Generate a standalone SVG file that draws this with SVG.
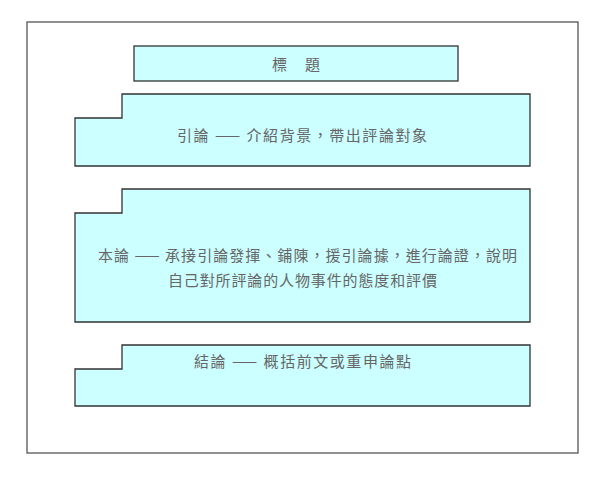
<svg xmlns="http://www.w3.org/2000/svg" width="613" height="478" viewBox="0 0 613 478">
  <style>
    .frame { fill: #ffffff; stroke: #555555; stroke-width: 1.3; }
    .box { fill: #ccffff; stroke: #333333; stroke-width: 1.3; stroke-linejoin: miter; }
    .lbl { font-family: "Noto Sans CJK TC", "Noto Sans CJK SC", "Liberation Sans", sans-serif; font-size: 15px; fill: #666666; text-anchor: middle; }
  </style>
  <rect width="613" height="478" fill="#ffffff"/>
  <g id="frame">
    <rect class="frame" x="27" y="22" width="551" height="431"/>
  </g>
  <g id="title">
    <rect class="box" x="134" y="46" width="324" height="35"/>
    <text class="lbl" x="296" y="70" textLength="48" lengthAdjust="spacing">標 題</text>
  </g>
  <g id="intro">
    <path class="box" d="M122,94 H530 V166 H75 V118 H122 Z"/>
    <text class="lbl" x="302" y="141" textLength="250" lengthAdjust="spacing">引論 —— 介紹背景，帶出評論對象</text>
  </g>
  <g id="body">
    <path class="box" d="M122,189 H530 V322 H75 V213 H122 Z"/>
    <text class="lbl" x="307.5" y="261" textLength="419" lengthAdjust="spacing">本論 —— 承接引論發揮、鋪陳，援引論據，進行論證，說明</text>
    <text class="lbl" x="302.5" y="286" textLength="269" lengthAdjust="spacing">自己對所評論的人物事件的態度和評價</text>
  </g>
  <g id="conclusion">
    <path class="box" d="M122,345 H530 V406 H75 V369 H122 Z"/>
    <text class="lbl" x="302.5" y="367" textLength="217" lengthAdjust="spacing">結論 —— 概括前文或重申論點</text>
  </g>
</svg>
